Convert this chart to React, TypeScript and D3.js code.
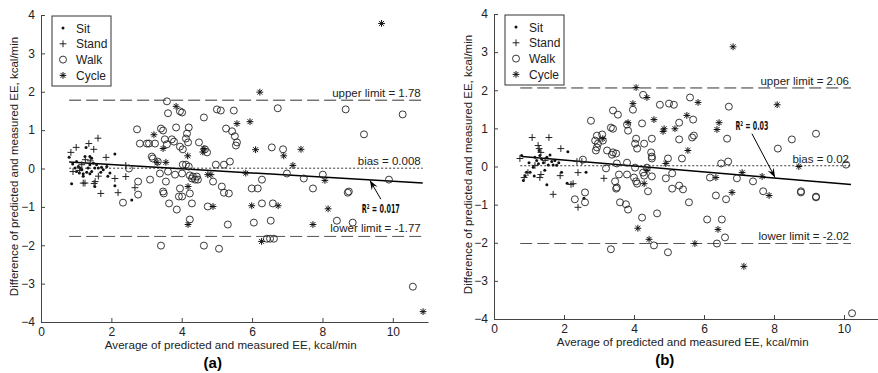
import { useEffect, useRef } from "react"
import * as d3 from "d3"

type Pt = [number, number]

// ---- panel (a) ----
const sitA: Pt[] = [
  [0.8, 0.29], [1.01, 0.18], [1.06, 0.05], [0.97, 0.01], [1.11, 0.01], [1.16, -0.03], [1.01, -0.08],
  [1.09, -0.12], [1.2, -0.14], [1.3, -0.1], [1.39, -0.14], [1.44, -0.08], [1.34, 0.01], [1.39, 0.1],
  [1.49, 0.14], [1.58, 0.1], [1.53, 0.01], [1.63, 0.01], [1.72, 0.03], [1.77, -0.03], [1.87, 0.05],
  [1.96, -0.12], [2.1, 0.38], [2.1, -0.45], [2.58, -0.82], [1.53, -0.47], [0.87, -0.4], [1.25, 0.31],
  [1.39, 0.31], [1.44, 0.27], [1.28, 0.55], [0.9, 0.12], [1.2, -0.2], [1.9, -0.2], [1.7, -0.1],
]
const standA: Pt[] = [
  [0.85, 0.42], [1.0, 0.55], [1.36, 0.65], [1.62, 0.79], [1.5, 0.5], [1.26, 0.23], [1.85, 0.29],
  [1.16, 0.1], [2.41, 0.08], [2.1, -0.26], [2.41, -0.21], [1.63, -0.2], [1.54, -0.34], [1.2, -0.38],
  [1.25, -0.38], [1.51, -0.39], [1.7, -0.65], [2.19, -0.63], [2.67, -0.5], [0.91, -0.08], [1.4, 0.2],
  [1.1, -0.05],
]
const walkA: Pt[] = [
  [3.58, 1.75], [3.61, 1.44], [3.95, 1.49], [4.01, 1.46], [2.73, 1.02], [3.41, 1.04], [3.47, 0.99],
  [3.84, 1.07], [4.2, 1.07], [4.15, 0.91], [4.63, 1.33], [5.0, 1.54], [5.11, 1.51], [5.48, 1.51],
  [5.26, 1.04], [5.43, 0.97], [5.51, 0.84], [5.57, 0.68], [5.54, 0.6], [4.12, 0.78], [4.18, 0.68],
  [2.81, 0.65], [3.01, 0.65], [3.07, 0.65], [3.24, 0.65], [3.72, 0.76], [3.58, 0.63], [3.95, 0.57],
  [4.03, 0.5], [4.49, 0.68], [3.15, 0.31], [3.18, 0.26], [3.32, 0.18], [4.66, 0.5], [4.72, 0.42],
  [5.37, 0.18], [5.2, 0.1], [4.97, 0.1], [4.03, 0.1], [4.12, 0.1], [4.2, 0.05], [6.73, 1.57],
  [6.56, 0.55], [6.88, 0.5], [8.66, 1.54], [9.18, 0.89], [10.28, 1.41], [2.5, 0.0], [2.76, -0.34],
  [3.1, -0.29], [3.38, -0.13], [3.55, -0.34], [3.61, -0.08], [3.81, -0.16], [4.01, -0.13],
  [4.23, -0.18], [4.32, -0.21], [4.29, -0.26], [4.38, -0.29], [4.43, -0.21], [4.46, -0.29],
  [4.89, -0.34], [5.14, -0.47], [6.99, -0.13], [7.47, -0.26], [7.73, -0.52], [8.01, -0.16],
  [8.75, -0.6], [9.89, -0.29], [5.99, -0.52], [6.16, -0.52], [6.28, -0.29], [3.41, -2.01],
  [4.63, -2.01], [5.06, -2.09], [6.42, -1.83], [6.51, -1.83], [6.62, -1.83], [10.57, -3.08],
  [4.23, -1.33], [5.31, -1.46], [6.05, -1.41], [6.53, -1.36], [8.41, -1.36], [8.86, -1.41],
  [2.33, -0.89], [2.76, -0.68], [3.64, -0.91], [3.86, -1.07], [3.92, -0.73], [3.95, -0.52],
  [4.29, -0.91], [4.23, -0.65], [3.47, -0.6], [3.49, -0.65], [5.2, -0.63], [5.34, -0.65],
  [6.28, -0.91], [6.59, -0.91], [8.72, -0.63], [4.74, -0.99], [4.01, -0.73], [3.52, 0.76],
  [3.78, 0.7],
]
const cycleA: Pt[] = [
  [9.68, 3.78], [6.22, 1.99], [3.84, 1.62], [5.57, 1.17], [5.94, 1.22], [3.21, 0.88], [3.47, 0.52],
  [4.63, 0.52], [4.6, 0.43], [6.1, 0.49], [7.39, 0.5], [6.9, 0.33], [4.17, 0.33], [7.16, 0.08],
  [3.55, 0.16], [3.3, 0.16], [5.82, -0.12], [8.07, -0.31], [4.74, -0.16], [4.83, -0.16],
  [4.18, -0.47], [4.18, -1.46], [4.89, -0.99], [5.99, -0.97], [6.74, -0.97], [8.16, -1.05],
  [7.73, -1.46], [6.27, -1.9], [10.86, -3.73],
]
const limitsA = { upper: 1.78, bias: 0.008, lower: -1.77, from: 0.8, to: 10.85 }
const regA = { x: [0.8, 10.85], y: [0.17, -0.38] }
const annA = { r2: "0.017", labelX: 9.66, labelY: -1.17, tail: [9.66, -0.8], head: [9.35, -0.31] }

// ---- panel (b) ----
const sitB: Pt[] = [
  [0.79, 0.29], [0.93, -0.15], [0.89, -0.24], [0.84, -0.37], [1.03, -0.15], [1.17, 0.24], [1.22, 0.16],
  [1.27, 0.07], [1.36, 0.2], [1.41, 0.1], [1.51, 0.24], [1.55, 0.04], [1.65, 0.13], [1.69, 0.04],
  [1.74, 0.16], [1.93, -0.15], [1.51, -0.48], [2.11, 0.39], [2.09, -0.44], [2.57, -0.83],
  [2.63, -0.15], [1.29, 0.42], [1.31, 0.29], [1.12, -0.02], [1.79, 0.03], [1.0, 0.1], [1.45, -0.1],
  [1.6, 0.3], [1.15, -0.25], [1.85, 0.1],
]
const standB: Pt[] = [
  [1.09, 0.76], [1.57, 0.76], [1.91, 0.47], [1.26, 0.55], [1.34, 0.37], [1.29, 0.47], [0.74, 0.21],
  [0.86, -0.29], [0.97, -0.16], [1.34, -0.21], [1.31, -0.29], [1.89, -0.24], [2.4, -0.16],
  [2.37, 0.13], [2.51, 0.13], [3.14, -0.31], [2.26, -0.45], [1.69, -0.73], [2.4, -1.07], [2.2, -0.47],
  [1.17, 0.03], [1.46, 0.16],
]
const walkB: Pt[] = [
  [4.26, 1.88], [3.97, 1.49], [3.4, 1.47], [3.54, 1.36], [2.77, 1.2], [3.34, 1.02], [3.4, 0.99],
  [3.8, 1.1], [3.83, 0.94], [4.23, 1.13], [2.94, 0.81], [2.89, 0.68], [2.97, 0.6], [2.94, 0.5],
  [3.11, 0.68], [3.23, 0.42], [3.37, 0.31], [3.4, 0.37], [3.49, 0.34], [4.06, 0.73], [4.03, 0.6],
  [4.09, 0.47], [4.29, 0.6], [2.54, 0.18], [3.2, -0.05], [3.51, 0.08], [3.8, 0.1], [4.03, -0.03],
  [4.26, -0.16], [3.46, -0.39], [3.51, -0.55], [3.49, -0.58], [3.57, -0.21], [3.8, -0.21],
  [4.0, -0.29], [4.06, -0.39], [4.09, -0.45], [2.6, -0.68], [2.31, -0.86], [2.6, -0.94],
  [3.6, -0.94], [3.77, -0.99], [3.83, -1.13], [4.23, -1.34], [3.34, -2.17], [4.74, 1.62],
  [5.0, 1.65], [5.14, 1.62], [5.6, 1.81], [6.71, 1.57], [5.69, 1.23], [5.29, 1.15], [4.51, 0.73],
  [5.29, 0.71], [5.66, 0.76], [5.71, 0.81], [6.66, 0.73], [8.11, 0.47], [4.49, 0.37], [4.51, 0.26],
  [4.51, 0.21], [4.97, 0.21], [5.37, 0.21], [6.49, 0.08], [6.69, 0.13], [4.37, -0.03], [4.29, -0.24],
  [4.51, -0.26], [4.91, -0.31], [5.09, -0.18], [6.17, -0.29], [6.94, -0.31], [7.4, -0.39],
  [5.29, -0.5], [5.4, -0.6], [5.09, -0.58], [4.4, -0.65], [5.57, -0.94], [6.34, -0.76],
  [6.63, -0.86], [7.69, -0.65], [4.66, -1.23], [6.09, -1.39], [6.51, -1.39], [6.6, -1.86],
  [6.37, -2.02], [4.57, -2.07], [4.97, -2.25], [10.06, 0.05], [9.2, 0.86], [8.51, 0.71],
  [8.77, -0.65], [8.77, -0.68], [9.2, -0.79], [9.2, -0.81], [10.23, -3.85], [2.91, 0.42],
  [3.09, 0.84],
]
const cycleB: Pt[] = [
  [6.83, 3.14], [4.06, 2.07], [4.37, 1.81], [3.97, 1.65], [5.83, 1.68], [8.09, 1.62], [5.51, 1.34],
  [4.57, 1.23], [3.83, 1.15], [4.86, 0.99], [4.83, 0.92], [5.17, 0.99], [6.43, 1.15], [6.37, 0.97],
  [5.54, 0.42], [3.11, 0.73], [4.91, 0.08], [7.09, -0.16], [7.66, -0.26], [6.34, -0.29], [8.71, 0.0],
  [4.29, -0.45], [4.37, -0.1], [4.11, -1.62], [4.43, -1.91], [5.74, -2.02], [7.14, -2.62],
  [6.4, -1.65], [6.8, -0.68], [7.86, -0.76],
]
const limitsB = { upper: 2.06, bias: 0.02, lower: -2.02, from: 0.75, to: 10.2 }
const regB = { x: [0.8, 10.2], y: [0.26, -0.47] }
const annB = { r2: "0.03", labelX: 7.37, labelY: 0.95, tail: [7.37, 0.86], head: [8.03, -0.29] }

const xTicks = [0, 2, 4, 6, 8, 10]
const yTicks = [-4, -3, -2, -1, 0, 1, 2, 3, 4]
const legendLabels = ["Sit", "Stand", "Walk", "Cycle"]
const yTitle = "Difference of predicted and measured EE, kcal/min"
const xTitle = "Average of predicted and measured EE, kcal/min"

const panels = [
  { tag: "(a)", sit: sitA, stand: standA, walk: walkA, cycle: cycleA, lim: limitsA, reg: regA, ann: annA,
    px: [41, 428], py: [322, 15], ylab: 14, r2w: 38 },
  { tag: "(b)", sit: sitB, stand: standB, walk: walkB, cycle: cycleB, lim: limitsB, reg: regB, ann: annB,
    px: [494, 879], py: [319, 14], ylab: 468, r2w: 33 },
]

const W = 878
const H = 373
const FONT = "'Liberation Sans', Arial, sans-serif"

function drawMarker(g: d3.Selection<SVGGElement, unknown, null, undefined>, kind: string, x: number, y: number) {
  const s = 3.4
  if (kind === "Sit") {
    g.append("circle").attr("cx", x).attr("cy", y).attr("r", 1.5).attr("fill", "#111")
  } else if (kind === "Stand") {
    g.append("path").attr("d", `M${x - s},${y}H${x + s}M${x},${y - s}V${y + s}`).attr("stroke", "#222").attr("stroke-width", 1).attr("fill", "none")
  } else if (kind === "Walk") {
    g.append("circle").attr("cx", x).attr("cy", y).attr("r", 3.5).attr("fill", "none").attr("stroke", "#222").attr("stroke-width", 0.9)
  } else {
    const d = s * 0.72
    g.append("path")
      .attr("d", `M${x - s},${y}H${x + s}M${x},${y - s}V${y + s}M${x - d},${y - d}L${x + d},${y + d}M${x - d},${y + d}L${x + d},${y - d}`)
      .attr("stroke", "#111").attr("stroke-width", 1).attr("fill", "none")
  }
}

export default function App() {
  const svgRef = useRef<SVGSVGElement>(null)

  useEffect(() => {
    if (!svgRef.current) return
    const svg = d3.select(svgRef.current)
    svg.selectAll("*").remove()
    svg.append("rect").attr("width", W).attr("height", H).attr("fill", "#fff")

    panels.forEach((p) => {
      const x = d3.scaleLinear().domain([0, 11]).range(p.px)
      const y = d3.scaleLinear().domain([-4, 4]).range(p.py)
      const g = svg.append("g")

      // axes (ticks point inward)
      const ax = g.append("g").attr("transform", `translate(0,${p.py[0]})`)
        .call(d3.axisBottom(x).tickValues(xTicks).tickSizeInner(-4).tickSizeOuter(0).tickPadding(5))
      const ay = g.append("g").attr("transform", `translate(${p.px[0]},0)`)
        .call(d3.axisLeft(y).tickValues(yTicks).tickSizeInner(-4).tickSizeOuter(0).tickPadding(6))
      ;[ax, ay].forEach((a) => {
        a.selectAll("path, line").attr("stroke", "#444")
        a.selectAll("text").attr("font-family", FONT).attr("font-size", 12).attr("fill", "#222")
      })

      // limit lines
      const hline = (v: number, dash: string, col: string) =>
        g.append("line").attr("x1", x(p.lim.from)).attr("x2", x(p.lim.to)).attr("y1", y(v)).attr("y2", y(v))
          .attr("stroke", col).attr("stroke-width", 1).attr("stroke-dasharray", dash)
      hline(p.lim.upper, "12,5", "#333")
      hline(p.lim.lower, "12,5", "#555")
      hline(p.lim.bias, "2,2", "#333")

      const lab = (txt: string, v: number, dy: number) =>
        g.append("text").attr("x", x(p.lim.to) - 2).attr("y", y(v) + dy).attr("text-anchor", "end")
          .attr("font-family", FONT).attr("font-size", 11.5).attr("fill", "#222").text(txt)
      lab(`upper limit = ${p.lim.upper}`, p.lim.upper, -3)
      lab(`bias = ${p.lim.bias}`, p.lim.bias, -3)
      lab(`lower limit = ${p.lim.lower}`, p.lim.lower, -4)

      // regression line
      g.append("line").attr("x1", x(p.reg.x[0])).attr("y1", y(p.reg.y[0])).attr("x2", x(p.reg.x[1])).attr("y2", y(p.reg.y[1]))
        .attr("stroke", "#000").attr("stroke-width", 1.5)

      // markers
      const m = g.append("g")
      p.sit.forEach((d) => drawMarker(m, "Sit", x(d[0]), y(d[1])))
      p.stand.forEach((d) => drawMarker(m, "Stand", x(d[0]), y(d[1])))
      p.walk.forEach((d) => drawMarker(m, "Walk", x(d[0]), y(d[1])))
      p.cycle.forEach((d) => drawMarker(m, "Cycle", x(d[0]), y(d[1])))

      // R² annotation with arrow
      const tx = x(p.ann.tail[0]), ty = y(p.ann.tail[1])
      const hx = x(p.ann.head[0]), hy = y(p.ann.head[1])
      g.append("line").attr("x1", tx).attr("y1", ty).attr("x2", hx).attr("y2", hy).attr("stroke", "#000").attr("stroke-width", 1)
      const ang = Math.atan2(hy - ty, hx - tx)
      const L = 10, wA = 0.35
      g.append("path")
        .attr("d", `M${hx},${hy}L${hx - L * Math.cos(ang - wA)},${hy - L * Math.sin(ang - wA)}L${hx - L * 0.6 * Math.cos(ang)},${hy - L * 0.6 * Math.sin(ang)}L${hx - L * Math.cos(ang + wA)},${hy - L * Math.sin(ang + wA)}Z`)
        .attr("fill", "#000")
      g.append("text").attr("x", x(p.ann.labelX)).attr("y", y(p.ann.labelY)).attr("text-anchor", "middle")
        .attr("font-family", "'DejaVu Sans Condensed', 'Liberation Sans Narrow', sans-serif").attr("font-weight", "bold")
        .attr("font-size", 12.5).attr("fill", "#111").attr("textLength", p.r2w).attr("lengthAdjust", "spacingAndGlyphs")
        .text(`R² = ${p.ann.r2}`)

      // legend
      const lg = g.append("g").attr("transform", `translate(${p.px[0] + 11},${p.py[1] + 1})`)
      lg.append("rect").attr("width", 59).attr("height", 70).attr("fill", "#fff").attr("stroke", "#333").attr("stroke-width", 1)
      legendLabels.forEach((l, i) => {
        const cy = 12 + i * 15.8
        drawMarker(lg, l, 11, cy)
        lg.append("text").attr("x", 24).attr("y", cy + 4.5).attr("font-family", FONT).attr("font-size", 12).attr("fill", "#222").text(l)
      })

      // titles
      const cx = (p.px[0] + x(10.9)) / 2 - 2
      g.append("text").attr("x", cx).attr("y", p.py[0] + 27).attr("text-anchor", "middle")
        .attr("font-family", FONT).attr("font-size", 11.6).attr("fill", "#222").text(xTitle)
      g.append("text").attr("x", cx - 18).attr("y", p.py[0] + 46).attr("text-anchor", "middle")
        .attr("font-family", FONT).attr("font-size", 15).attr("font-weight", "bold").attr("fill", "#000").text(p.tag)
      g.append("text").attr("transform", `translate(${p.ylab + 4},${(p.py[0] + p.py[1]) / 2 - 2}) rotate(-90)`)
        .attr("text-anchor", "middle").attr("font-family", FONT).attr("font-size", 11.5).attr("fill", "#222").text(yTitle)
    })
  }, [])

  return (
    <svg ref={svgRef} width={W} height={H} style={{ position: "absolute", left: 0, top: 0, display: "block" }} />
  )
}
